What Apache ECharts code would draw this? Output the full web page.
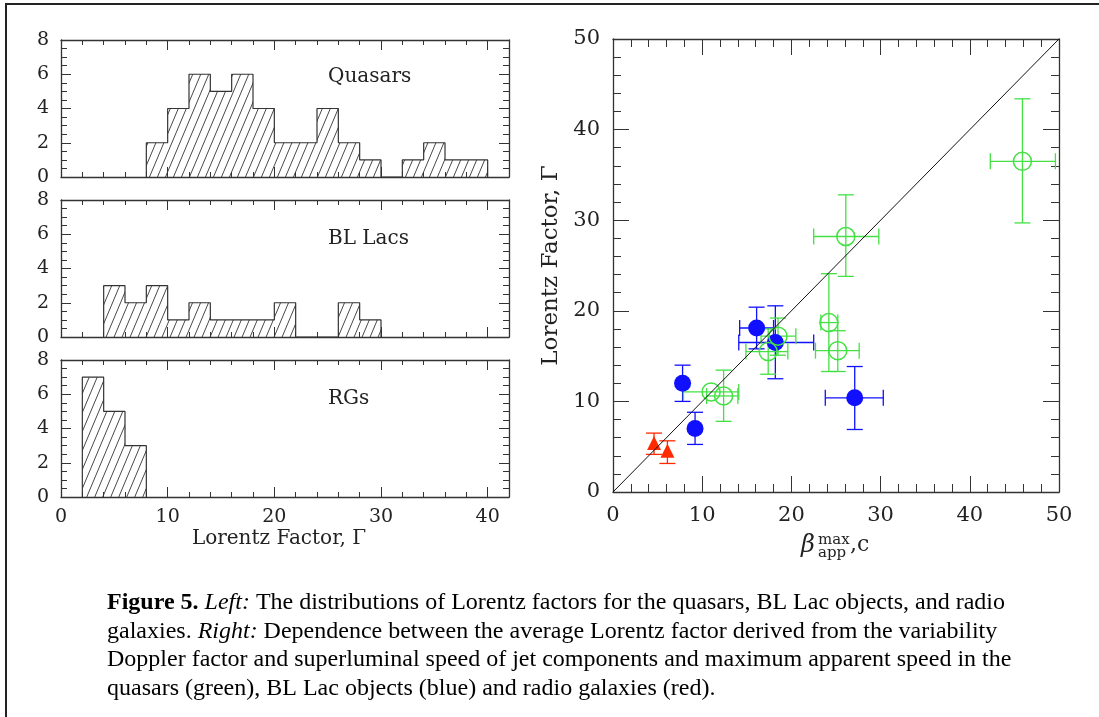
<!DOCTYPE html>
<html><head><meta charset="utf-8">
<script src="https://cdn.jsdelivr.net/npm/echarts@6/dist/echarts.min.js"></script>
<style>html,body{margin:0;padding:0;background:#fff}#c{width:1099px;height:717px}</style>
</head><body><div id="c"></div>
<script>
// ---------- DATA ----------
const binWidth = 2;
const quasarsStart = 8;
const quasarsCounts = [2,4,6,5,6,4,2,2,4,2,1,0,1,2,1,1];
const blLacsStart = 4;
const blLacsCounts = [3,2,3,1,2,1,1,1,2,0,0,2,1];
const rgsStart = 2;
const rgsCounts = [7,5,3];
const histXTicks = [0,10,20,30,40];
const histYTicks = [0,2,4,6,8];

// scatter: [x, y, xLow, xHigh, yLow, yHigh]
const quasarPoints = [
  [11.0, 11.05, 7.9, 14.1, 11.05, 11.05],
  [12.4, 10.6, 10.5, 14.0, 7.8, 13.45],
  [17.4, 15.5, 14.9, 19.6, 13.0, 18.0],
  [18.5, 17.2, 16.6, 20.5, 15.1, 19.2],
  [24.2, 18.7, 23.3, 25.2, 13.3, 24.1],
  [25.2, 15.6, 22.7, 27.6, 13.3, 17.8],
  [26.1, 28.2, 22.5, 29.8, 23.8, 32.8],
  [45.9, 36.5, 42.3, 49.6, 29.7, 43.4]
];
const blLacPoints = [
  [7.8, 12.0, 7.8, 7.8, 10.0, 14.0],
  [9.2, 7.0, 9.2, 9.2, 5.25, 8.8],
  [16.1, 18.1, 14.2, 18.0, 15.8, 20.4],
  [18.2, 16.5, 14.1, 22.5, 12.5, 20.55],
  [27.1, 10.4, 23.8, 30.3, 6.9, 13.85]
];
const rgPoints = [
  [4.6, 5.4, 4.6, 4.6, 4.15, 6.5],
  [6.1, 4.55, 6.1, 6.1, 3.15, 5.65]
];
const diagonal = [[0,0],[50,50]];
const scatterTicks = [0,10,20,30,40,50];

// ---------- helpers ----------
function stepOutline(start, counts){
  const pts = [[start, 0]];
  counts.forEach((c,i)=>{ const a=start+i*binWidth; pts.push([a,c]); pts.push([a+binWidth,c]); });
  pts.push([start+counts.length*binWidth, 0]);
  return pts;
}
function hatchPattern(){
  const W=8, H=19;
  const cv=document.createElement('canvas'); cv.width=W; cv.height=H;
  const g=cv.getContext('2d');
  g.strokeStyle='#333'; g.lineWidth=0.9;
  for (const dx of [-W,0,W]){ g.beginPath(); g.moveTo(dx,H); g.lineTo(dx+W,0); g.stroke(); }
  return {image: cv, repeat: 'repeat'};
}
const hatch = hatchPattern();
const serif = 'DejaVu Serif';
const axisCol = '#333';

const grids = [
  {left:61, top:40, width:448, height:137},
  {left:61, top:200, width:448, height:137},
  {left:61, top:360, width:448, height:137},
  {left:613, top:39, width:446, height:453}
];
const xAxes=[], yAxes=[];
for (let i=0;i<3;i++){
  const isLast = i===2;
  const base = {gridIndex:i, type:'value', min:0, max:42, interval:10,
    axisLine:{onZero:false,lineStyle:{color:axisCol,width:1.3}},
    axisTick:{inside:true,length:10,lineStyle:{color:axisCol,width:1}},
    minorTick:{show:true,splitNumber:5,length:5,lineStyle:{color:axisCol,width:1}},
    splitLine:{show:false}};
  xAxes.push(Object.assign({}, base, {position:'bottom',
    axisLabel:{show:isLast, margin:11, fontFamily:serif, fontSize:19, color:'#222',
      showMaxLabel:false},
    name: isLast ? 'Lorentz Factor, Γ' : '', nameLocation:'middle', nameGap:42,
    nameTextStyle:{fontFamily:serif, fontSize:20, color:'#222', verticalAlign:'middle', padding:[0,12,0,0]}}));
  xAxes.push(Object.assign({}, base, {position:'top', axisLabel:{show:false}}));
  const ybase = {gridIndex:i, type:'value', min:0, max:8, interval:2,
    axisLine:{show:true,onZero:false,lineStyle:{color:axisCol,width:1.3}},
    axisTick:{show:true,inside:true,length:10,lineStyle:{color:axisCol,width:1}},
    minorTick:{show:true,splitNumber:4,length:6,lineStyle:{color:axisCol,width:1}},
    splitLine:{show:false}};
  yAxes.push(Object.assign({}, ybase, {position:'left',
    axisLabel:{margin:12, fontFamily:serif, fontSize:19, color:'#222'}}));
  yAxes.push(Object.assign({}, ybase, {position:'right', axisLabel:{show:false}}));
}
const sBase = {gridIndex:3, type:'value', min:0, max:50, interval:10,
  axisLine:{show:true,onZero:false,lineStyle:{color:axisCol,width:1.3}},
  axisTick:{show:true,inside:true,length:16,lineStyle:{color:axisCol,width:1}},
  minorTick:{show:true,splitNumber:5,length:8,lineStyle:{color:axisCol,width:1}},
  splitLine:{show:false}};
xAxes.push(Object.assign({}, sBase, {position:'bottom',
  axisLabel:{margin:13, fontFamily:serif, fontSize:21, color:'#222'}}));
xAxes.push(Object.assign({}, sBase, {position:'top', axisLabel:{show:false}}));
yAxes.push(Object.assign({}, sBase, {position:'left',
  axisLabel:{margin:13, fontFamily:serif, fontSize:21, color:'#222'},
  name:'Lorentz Factor, Γ', nameLocation:'middle', nameGap:62, nameRotate:90,
  nameTextStyle:{fontFamily:serif, fontSize:23, color:'#222', verticalAlign:'middle'}}));
yAxes.push(Object.assign({}, sBase, {position:'right', axisLabel:{show:false}}));

function histSeries(idx, start, counts){
  return {type:'line', xAxisIndex:idx*2, yAxisIndex:idx*2, data:stepOutline(start, counts),
    symbol:'none', lineStyle:{color:'#333',width:1.2}, areaStyle:{color:hatch, opacity:1},
    silent:true, animation:false};
}
function errSeries(points, color){
  return {type:'custom', xAxisIndex:6, yAxisIndex:6, data:points, animation:false, silent:true,
    encode:{x:0,y:1},
    renderItem:function(params, api){
      const y=api.value(1), x=api.value(0);
      const xl=api.value(2), xh=api.value(3), yl=api.value(4), yh=api.value(5);
      const cap=8, ch=[];
      const st={stroke:color,lineWidth:1.3};
      if (xh>xl){
        const a=api.coord([xl,y]), b=api.coord([xh,y]);
        ch.push({type:'line',shape:{x1:a[0],y1:a[1],x2:b[0],y2:b[1]},style:st});
        ch.push({type:'line',shape:{x1:a[0],y1:a[1]-cap,x2:a[0],y2:a[1]+cap},style:st});
        ch.push({type:'line',shape:{x1:b[0],y1:b[1]-cap,x2:b[0],y2:b[1]+cap},style:st});
      }
      if (yh>yl){
        const a=api.coord([x,yl]), b=api.coord([x,yh]);
        ch.push({type:'line',shape:{x1:a[0],y1:a[1],x2:b[0],y2:b[1]},style:st});
        ch.push({type:'line',shape:{x1:a[0]-cap,y1:a[1],x2:a[0]+cap,y2:a[1]},style:st});
        ch.push({type:'line',shape:{x1:b[0]-cap,y1:b[1],x2:b[0]+cap,y2:b[1]},style:st});
      }
      return {type:'group', children:ch};
    }};
}
const blue='#1010ff', green='#44e044', red='#ff2a00';
const capFont = '"Liberation Serif"';

const chart = echarts.init(document.getElementById('c'), null, {renderer:'canvas'});
chart.setOption({
  animation:false,
  backgroundColor:'#fff',
  grid: grids,
  xAxis: xAxes,
  yAxis: yAxes,
  series: [
    histSeries(0, quasarsStart, quasarsCounts),
    histSeries(1, blLacsStart, blLacsCounts),
    histSeries(2, rgsStart, rgsCounts),
    {type:'line', xAxisIndex:6, yAxisIndex:6, data:diagonal, symbol:'none',
      lineStyle:{color:'#111',width:1}, silent:true},
    errSeries(blLacPoints, blue),
    {type:'scatter', xAxisIndex:6, yAxisIndex:6, data:blLacPoints.map(p=>[p[0],p[1]]),
      symbol:'circle', symbolSize:17, itemStyle:{color:blue, opacity:1}},
    errSeries(quasarPoints, green),
    {type:'scatter', xAxisIndex:6, yAxisIndex:6, data:quasarPoints.map(p=>[p[0],p[1]]),
      symbol:'circle', symbolSize:18, itemStyle:{color:'rgba(0,0,0,0)', borderColor:green, borderWidth:1.5, opacity:1}},
    errSeries(rgPoints, red),
    {type:'scatter', xAxisIndex:6, yAxisIndex:6, data:rgPoints.map(p=>[p[0],p[1]]),
      symbol:'triangle', symbolSize:14, itemStyle:{color:red, opacity:1}}
  ],
  graphic: [
    {type:'rect', shape:{x:6,y:4,width:1100,height:720}, style:{fill:null, stroke:'#222', lineWidth:2}, z:-1},
    {type:'text', left:328, top:67, style:{text:'Quasars', font:'20px "DejaVu Serif"', fill:'#222'}},
    {type:'text', left:328, top:229, style:{text:'BL Lacs', font:'20px "DejaVu Serif"', fill:'#222'}},
    {type:'text', left:328, top:389, style:{text:'RGs', font:'20px "DejaVu Serif"', fill:'#222'}},
    {type:'text', x:801, y:546, style:{text:'β', font:'italic 24px "DejaVu Serif"', fill:'#222', verticalAlign:'middle'}},
    {type:'text', x:818, y:540, style:{text:'max', font:'15px "DejaVu Serif"', fill:'#222', verticalAlign:'middle'}},
    {type:'text', x:818, y:553, style:{text:'app', font:'15px "DejaVu Serif"', fill:'#222', verticalAlign:'middle'}},
    {type:'text', x:850, y:545, style:{text:',c', font:'22px "DejaVu Serif"', fill:'#222', verticalAlign:'middle'}},
    {type:'text', x:107, y:603, style:{text:'{b|Figure 5.} {i|Left:} The distributions of Lorentz factors for the quasars, BL Lac objects, and radio',
      font:'24px '+capFont, fill:'#000', verticalAlign:'middle',
      rich:{b:{fontWeight:'bold', fontFamily:'Liberation Serif', fontSize:24}, i:{fontStyle:'italic', fontFamily:'Liberation Serif', fontSize:24}}}},
    {type:'text', x:107, y:632, style:{text:'galaxies. {i|Right:} Dependence between the average Lorentz factor derived from the variability',
      font:'24px '+capFont, fill:'#000', verticalAlign:'middle',
      rich:{i:{fontStyle:'italic', fontFamily:'Liberation Serif', fontSize:24}}}},
    {type:'text', x:107, y:660, style:{text:'Doppler factor and superluminal speed of jet components and maximum apparent speed in the',
      font:'24px '+capFont, fill:'#000', verticalAlign:'middle'}},
    {type:'text', x:107, y:689, style:{text:'quasars (green), BL Lac objects (blue) and radio galaxies (red).',
      font:'24px '+capFont, fill:'#000', verticalAlign:'middle'}}
  ]
});
</script></body></html>
